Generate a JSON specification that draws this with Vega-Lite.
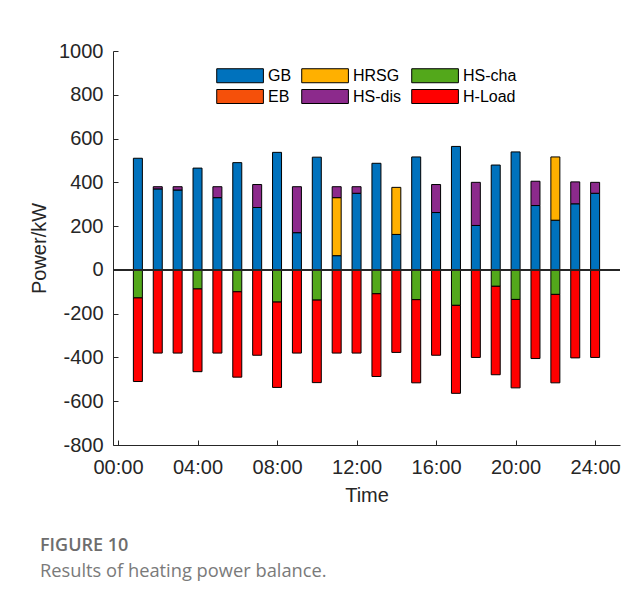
{
  "$schema": "https://vega.github.io/schema/vega-lite/v6.json",
  "width": 507,
  "height": 394,
  "autosize": {"type": "none"},
  "padding": {"left": 113, "top": 51, "right": 24, "bottom": 154},
  "background": "white",
  "config": {
    "view": {"stroke": null},
    "font": "Liberation Sans",
    "axis": {"grid": false, "domainColor": "#262626", "tickColor": "#262626", "labelColor": "#262626", "titleColor": "#262626", "labelFontSize": 20, "titleFontSize": 20, "titleFontWeight": "normal", "tickSize": -5, "domainWidth": 1, "tickWidth": 1}
  },
  "title": {
    "text": "FIGURE 10",
    "subtitle": "Results of heating power balance.",
    "orient": "bottom",
    "anchor": "start",
    "frame": "group",
    "dx": -73,
    "offset": 32,
    "font": "Open Sans",
    "fontSize": 18,
    "fontWeight": 600,
    "color": "#6d6d6d",
    "subtitleFont": "Open Sans",
    "subtitleFontSize": 18.3,
    "subtitleColor": "#7a7a7a",
    "subtitlePadding": 8
  },
  "data": {
    "values": [
      {"t": 1, "s": "GB", "v": 510}, {"t": 1, "s": "HS-cha", "v": -128}, {"t": 1, "s": "H-Load", "v": -382},
      {"t": 2, "s": "GB", "v": 370}, {"t": 2, "s": "HS-dis", "v": 10}, {"t": 2, "s": "H-Load", "v": -380},
      {"t": 3, "s": "GB", "v": 365}, {"t": 3, "s": "HS-dis", "v": 15}, {"t": 3, "s": "H-Load", "v": -380},
      {"t": 4, "s": "GB", "v": 465}, {"t": 4, "s": "HS-cha", "v": -87}, {"t": 4, "s": "H-Load", "v": -378},
      {"t": 5, "s": "GB", "v": 330}, {"t": 5, "s": "HS-dis", "v": 50}, {"t": 5, "s": "H-Load", "v": -380},
      {"t": 6, "s": "GB", "v": 490}, {"t": 6, "s": "HS-cha", "v": -100}, {"t": 6, "s": "H-Load", "v": -390},
      {"t": 7, "s": "GB", "v": 285}, {"t": 7, "s": "HS-dis", "v": 105}, {"t": 7, "s": "H-Load", "v": -390},
      {"t": 8, "s": "GB", "v": 537}, {"t": 8, "s": "HS-cha", "v": -147}, {"t": 8, "s": "H-Load", "v": -390},
      {"t": 9, "s": "GB", "v": 170}, {"t": 9, "s": "HS-dis", "v": 210}, {"t": 9, "s": "H-Load", "v": -380},
      {"t": 10, "s": "GB", "v": 515}, {"t": 10, "s": "HS-cha", "v": -138}, {"t": 10, "s": "H-Load", "v": -377},
      {"t": 11, "s": "GB", "v": 65}, {"t": 11, "s": "HRSG", "v": 265}, {"t": 11, "s": "HS-dis", "v": 50}, {"t": 11, "s": "H-Load", "v": -380},
      {"t": 12, "s": "GB", "v": 350}, {"t": 12, "s": "HS-dis", "v": 30}, {"t": 12, "s": "H-Load", "v": -380},
      {"t": 13, "s": "GB", "v": 487}, {"t": 13, "s": "HS-cha", "v": -109}, {"t": 13, "s": "H-Load", "v": -378},
      {"t": 14, "s": "GB", "v": 162}, {"t": 14, "s": "HRSG", "v": 215}, {"t": 14, "s": "H-Load", "v": -377},
      {"t": 15, "s": "GB", "v": 516}, {"t": 15, "s": "HS-cha", "v": -136}, {"t": 15, "s": "H-Load", "v": -380},
      {"t": 16, "s": "GB", "v": 262}, {"t": 16, "s": "HS-dis", "v": 128}, {"t": 16, "s": "H-Load", "v": -390},
      {"t": 17, "s": "GB", "v": 564}, {"t": 17, "s": "HS-cha", "v": -162}, {"t": 17, "s": "H-Load", "v": -402},
      {"t": 18, "s": "GB", "v": 203}, {"t": 18, "s": "HS-dis", "v": 197}, {"t": 18, "s": "H-Load", "v": -400},
      {"t": 19, "s": "GB", "v": 479}, {"t": 19, "s": "HS-cha", "v": -75}, {"t": 19, "s": "H-Load", "v": -404},
      {"t": 20, "s": "GB", "v": 539}, {"t": 20, "s": "HS-cha", "v": -135}, {"t": 20, "s": "H-Load", "v": -404},
      {"t": 21, "s": "GB", "v": 294}, {"t": 21, "s": "HS-dis", "v": 111}, {"t": 21, "s": "H-Load", "v": -405},
      {"t": 22, "s": "GB", "v": 227}, {"t": 22, "s": "HRSG", "v": 289}, {"t": 22, "s": "HS-cha", "v": -112}, {"t": 22, "s": "H-Load", "v": -404},
      {"t": 23, "s": "GB", "v": 302}, {"t": 23, "s": "HS-dis", "v": 100}, {"t": 23, "s": "H-Load", "v": -402},
      {"t": 24, "s": "GB", "v": 350}, {"t": 24, "s": "HS-dis", "v": 50}, {"t": 24, "s": "H-Load", "v": -400}
    ]
  },
  "encoding": {
    "x": {
      "field": "t",
      "type": "quantitative",
      "scale": {"domain": [0, 25], "nice": false, "zero": false},
      "axis": {
        "title": "Time",
        "values": [0, 4, 8, 12, 16, 20, 24],
        "labelExpr": "(datum.value < 10 ? '0' : '') + datum.value + ':00'",
        "labelPadding": 17,
        "titlePadding": 8
      }
    },
    "y": {
      "field": "v",
      "type": "quantitative",
      "stack": "zero",
      "scale": {"domain": [-800, 1000], "nice": false},
      "axis": {
        "title": "Power/kW",
        "values": [-800, -600, -400, -200, 0, 200, 400, 600, 800, 1000],
        "labelExpr": "'' + datum.value",
        "labelPadding": 15,
        "titlePadding": 9
      }
    },
    "color": {
      "field": "s",
      "type": "nominal",
      "scale": {
        "domain": ["GB", "HRSG", "HS-cha", "EB", "HS-dis", "H-Load"],
        "range": ["#0072bd", "#ffb000", "#53a81b", "#f5500a", "#8c2a8c", "#ff0000"]
      },
      "legend": {
        "orient": "none",
        "legendX": 103,
        "legendY": 16,
        "direction": "horizontal",
        "columns": 3,
        "title": null,
        "padding": 0,
        "symbolType": "M-1,-0.9H5V0.9H-1Z",
        "symbolSize": 242,
        "symbolStrokeColor": "black",
        "symbolStrokeWidth": 1,
        "symbolOpacity": 1,
        "labelFontSize": 16,
        "labelColor": "black",
        "labelOffset": 35,
        "columnPadding": 7,
        "rowPadding": 2
      }
    }
  },
  "layer": [
    {
      "transform": [{"filter": "datum.v > 0"}],
      "mark": {"type": "bar", "size": 9, "stroke": "black", "strokeWidth": 1},
      "encoding": {"order": {"field": "s", "sort": "ascending"}}
    },
    {
      "transform": [{"filter": "datum.v < 0"}],
      "mark": {"type": "bar", "size": 9, "stroke": "black", "strokeWidth": 1},
      "encoding": {"order": {"field": "s", "sort": "descending"}}
    },
    {
      "mark": {"type": "rule", "color": "#262626", "strokeWidth": 1},
      "encoding": {"x": null, "color": null, "y": {"datum": 0}}
    }
  ]
}
